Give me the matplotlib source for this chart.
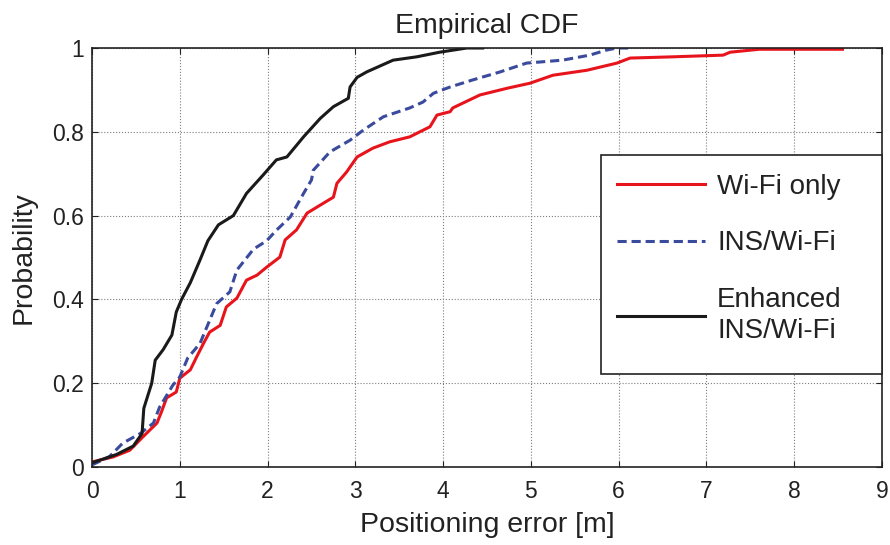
import matplotlib.pyplot as plt
from matplotlib.patches import Rectangle

plt.rcParams['font.family'] = ['Liberation Sans', 'DejaVu Sans']

# Wi-Fi only
wifi_x = [0.0, 0.24, 0.43, 0.58, 0.74, 0.79, 0.85, 0.96, 1.0, 1.12, 1.19, 1.27, 1.34, 1.46,
          1.53, 1.65, 1.76, 1.88, 1.99, 2.14, 2.2, 2.33, 2.45, 2.56, 2.75, 2.79, 2.9, 2.97,
          3.02, 3.2, 3.39, 3.62, 3.85, 3.93, 4.08, 4.11, 4.42, 4.73, 4.99, 5.25, 5.64, 5.98,
          6.13, 6.62, 7.19, 7.27, 7.6, 8.55]
wifi_y = [0.012, 0.024, 0.04, 0.072, 0.105, 0.131, 0.165, 0.179, 0.212, 0.232, 0.262, 0.295,
          0.322, 0.338, 0.382, 0.403, 0.446, 0.458, 0.477, 0.501, 0.542, 0.566, 0.606, 0.62,
          0.644, 0.677, 0.704, 0.725, 0.74, 0.761, 0.776, 0.788, 0.812, 0.84, 0.848, 0.857,
          0.888, 0.904, 0.916, 0.935, 0.947, 0.964, 0.976, 0.979, 0.983, 0.99, 0.997, 0.997]

# INS/Wi-Fi
ins_x = [0.0, 0.2, 0.35, 0.55, 0.7, 0.77, 0.92, 1.0, 1.09, 1.23, 1.34, 1.42, 1.57, 1.65,
         1.84, 1.99, 2.1, 2.26, 2.41, 2.5, 2.52, 2.71, 2.94, 3.09, 3.32, 3.62, 3.77, 3.89,
         4.08, 4.34, 4.65, 4.95, 5.36, 5.67, 5.86, 5.98, 6.16]
ins_y = [0.005, 0.025, 0.057, 0.08, 0.105, 0.143, 0.195, 0.215, 0.26, 0.295, 0.35, 0.39,
         0.418, 0.47, 0.52, 0.54, 0.565, 0.597, 0.653, 0.685, 0.708, 0.752, 0.78, 0.804,
         0.836, 0.857, 0.871, 0.892, 0.907, 0.924, 0.943, 0.964, 0.971, 0.983, 0.995, 1.0, 1.0]

# Enhanced INS/Wi-Fi
enh_x = [0.0, 0.28, 0.47, 0.57, 0.59, 0.68, 0.72, 0.81, 0.91, 0.96, 1.02, 1.12, 1.23, 1.32,
         1.44, 1.61, 1.76, 1.95, 2.1, 2.22, 2.41, 2.6, 2.75, 2.92, 2.94, 3.02, 3.13, 3.43,
         3.7, 3.96, 4.27, 4.45]
enh_y = [0.01, 0.03, 0.05, 0.08, 0.14, 0.2, 0.255, 0.28, 0.315, 0.37, 0.4, 0.44, 0.494, 0.54,
         0.578, 0.6, 0.653, 0.697, 0.733, 0.74, 0.788, 0.832, 0.86, 0.88, 0.907, 0.93, 0.943,
         0.971, 0.979, 0.99, 1.0, 1.0]

labels = ['Wi-Fi only', 'INS/Wi-Fi', 'Enhanced\nINS/Wi-Fi']

fig = plt.figure(figsize=(8.9, 5.45), dpi=100)
ax = fig.add_axes([0.1034, 0.1431, 0.8876, 0.7688])

ax.plot(wifi_x, wifi_y, color='#e8141c', linewidth=2.2, label=labels[0])
ax.plot(ins_x, ins_y, color='#3a4a9c', linewidth=2.2, linestyle=(0, (3, 1.6)), label=labels[1])
ax.plot(enh_x, enh_y, color='#1a1a1a', linewidth=2.2, label=labels[2])

ax.set_xlim(0, 9)
ax.set_ylim(0, 1)
ax.set_xticks(range(0, 10))
ax.set_yticks([0, 0.2, 0.4, 0.6, 0.8, 1])
ax.set_yticklabels(['0', '0.2', '0.4', '0.6', '0.8', '1'])
ax.grid(True, color='#7f7f7f', linestyle=':', linewidth=0.8)
ax.tick_params(direction='in', top=True, right=True, labelsize=16.5, colors='#222222',
               length=4)
ax.tick_params(axis='x', pad=9)
ax.tick_params(axis='y', pad=6)
for s in ax.spines.values():
    s.set_linewidth(1.2)
    s.set_color('#222222')

ax.set_title('Empirical CDF', fontsize=20.5, color='#222222', pad=11)
ax.set_xlabel('Positioning error [m]', fontsize=20.5, color='#222222', labelpad=7)
ax.set_ylabel('Probability', fontsize=20.5, color='#222222', labelpad=11)

# legend box (fixed size, like the original)
ax.add_patch(Rectangle((0.644, 0.222), 0.356, 0.523, transform=ax.transAxes,
                       facecolor='white', edgecolor='#222222', linewidth=1.2,
                       zorder=4, clip_on=False))
leg = ax.legend(loc='upper left', bbox_to_anchor=(0.6646, 0.70), fontsize=20, frameon=False,
                handlelength=3.17, handletextpad=0.43, labelspacing=1.1, borderpad=0,
                borderaxespad=0)
leg.set_zorder(5)
for t in leg.get_texts():
    t.set_color('#222222')
    t.set_multialignment('left')
    t.set_linespacing(1.25)

fig.savefig('out.png', dpi=100)
